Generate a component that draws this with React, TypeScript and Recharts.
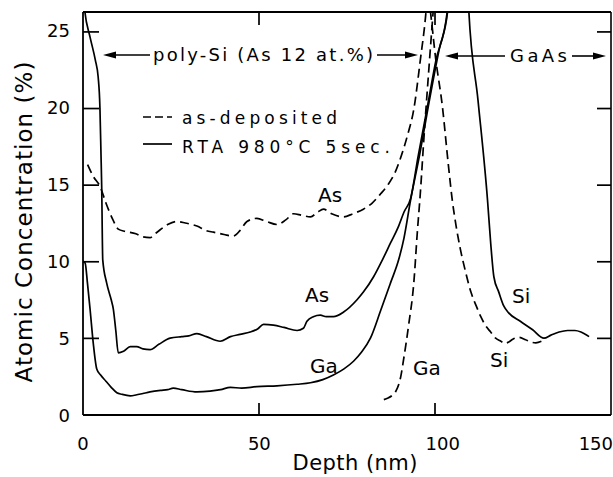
import React, { useEffect, useState } from "react";
import { LineChart, Line, XAxis, YAxis } from "recharts";

// Depth (nm), concentration (%)
const asDepositedAs: number[][] = [
  [1.3, 16.3], [3, 15.5], [4.8, 14.9], [6.5, 13.8], [8.5, 12.7], [10, 12.1], [12, 11.95], [15, 11.8],
  [17, 11.6], [19, 11.55], [21, 11.9], [24, 12.4], [26.6, 12.6], [29, 12.5], [32.3, 12.3], [35, 12.0],
  [37, 11.9], [40, 11.75], [42.6, 11.65], [44.5, 12.0], [46.5, 12.6], [49.3, 12.8], [52, 12.6], [55, 12.4],
  [57.5, 12.7], [59.7, 13.1], [62, 13.0], [64.5, 12.9], [66.5, 13.2], [68.2, 13.4], [70.5, 13.1], [73.9, 12.9],
  [76.5, 13.1], [79.5, 13.4], [82, 13.8], [84.4, 14.4], [86.5, 15.0], [88.5, 15.8], [90, 16.7], [92, 18.2],
  [93.8, 19.9], [95.7, 23.2], [97.2, 26.1], [97.6, 27.2],
];
const asDepositedGa: number[][] = [
  [85.3, 1.0], [86.5, 1.1], [87.8, 1.3], [88.6, 1.5], [90.1, 2.5], [90.9, 3.6], [92.3, 5.8], [93.8, 8.6],
  [94.8, 11.9], [95.7, 14.6], [96.6, 17.8], [98, 22.3], [99.3, 26.3], [99.6, 27.2],
];
const asDepositedSi: number[][] = [
  [98.0, 27.2], [98.6, 26.1], [100, 23.2], [101.9, 20.1], [103.5, 16.5], [104.7, 14.0], [105.8, 12.3],
  [107, 10.8], [108.5, 9.3], [110, 8.0], [111.5, 7.1], [112.8, 6.4], [114.2, 5.8], [115.6, 5.4], [117, 5.0],
  [118.5, 4.8], [119.5, 4.65], [120.7, 4.75], [122, 4.95], [123.6, 5.05], [125.5, 4.9], [127, 4.75],
  [128.4, 4.7], [130, 4.8], [131.2, 4.95],
];
const rtaAs: number[][] = [
  [0, 27.5], [0.5, 26.3], [2, 24.6], [3.5, 23.1], [4.3, 22], [4.8, 20], [5.1, 17], [5.3, 14.9], [5.6, 10.1],
  [6.7, 8.6], [8.0, 7.5], [8.6, 6.9], [9.3, 5.5], [10, 4.05], [11.5, 4.15], [13.4, 4.45], [15.2, 4.45],
  [17, 4.3], [19, 4.25], [21.5, 4.6], [24.7, 5.0], [28, 5.1], [30, 5.15], [32.3, 5.3], [35, 5.1], [38.9, 4.8],
  [41.8, 5.1], [44.5, 5.25], [47.4, 5.4], [49.5, 5.6], [51.2, 5.9], [54, 5.85], [57, 5.7], [60.7, 5.5],
  [62.5, 5.65], [63.5, 6.1], [65.3, 6.4], [67.3, 6.5], [69, 6.4], [71, 6.4], [73.9, 6.7], [77.7, 7.5],
  [79.5, 8.0], [82.4, 9.0], [84.9, 10.1], [87.2, 11.2], [89.5, 12.3], [91, 13.2], [92.9, 14.1], [95, 16.8],
  [97.6, 20], [100, 23], [103.3, 26.3], [103.6, 27.2],
];
const rtaGa: number[][] = [
  [0, 10.0], [0.6, 9.9], [1.3, 8.5], [2, 6.9], [2.9, 4.7], [3.9, 3.0], [5, 2.6], [6.5, 2.2], [8, 1.8],
  [9.6, 1.45], [11, 1.35], [13.4, 1.25], [15, 1.3], [17, 1.4], [19, 1.5], [22, 1.6], [24, 1.65], [25.6, 1.75],
  [28, 1.65], [32.3, 1.5], [36, 1.55], [39, 1.65], [41.8, 1.8], [45, 1.75], [49.3, 1.85], [55, 1.9],
  [60.7, 2.0], [64.5, 2.1], [68, 2.3], [71, 2.6], [74, 3.0], [76.7, 3.5], [79, 4.1], [81.5, 5.0], [84.4, 6.8],
  [87.2, 8.6], [89.5, 10.1], [91, 11.5], [92.9, 14], [95.5, 17], [98, 20.2], [101, 23.8], [103.4, 26.3],
  [103.7, 27.2],
];
const rtaSi: number[][] = [
  [109.2, 27.2], [109.4, 26.3], [112, 20.5], [114.7, 14.0], [115.6, 11.2], [116.5, 9.0], [117.9, 8.0],
  [119.3, 7.1], [120.7, 6.65], [124, 6.1], [127.5, 5.55], [130.7, 5.0], [132.7, 5.2], [135, 5.4],
  [137.4, 5.5], [139.5, 5.5], [141.2, 5.4], [143.5, 5.1],
];

const X_MIN = 0;
const X_MAX = 150;
const Y_MIN = 0;
const Y_MAX = 26.3;
const xTicks = [0, 50, 100, 150];
const yTicks = [0, 5, 10, 15, 20, 25];
const innerXTicks = [50, 100];
const innerYTicks = [5, 10, 15, 20, 25];

// layout
const W = 613;
const H = 477;
const PLOT_LEFT = 83;
const PLOT_TOP = 12;
const PLOT_RIGHT = 611;
const PLOT_BOTTOM = 415;
const sx = (d: number) => PLOT_LEFT + ((d - X_MIN) / (X_MAX - X_MIN)) * (PLOT_RIGHT - PLOT_LEFT);
const sy = (c: number) => PLOT_BOTTOM - ((c - Y_MIN) / (Y_MAX - Y_MIN)) * (PLOT_BOTTOM - PLOT_TOP);

const toPts = (a: number[][]) => a.map(([d, c]) => ({ d, c }));

const FONT = "'DejaVu Sans', sans-serif";

const LeftTick = (props: any) => {
  const x = Number(props.x);
  const y = Number(props.y);
  const v = props.payload.value;
  return (
    <text x={x - 13} y={y + 6.5} textAnchor="end" fontSize={18} fontFamily={FONT} fill="#000" stroke="none">
      {v}
    </text>
  );
};
const BottomTick = (props: any) => {
  const x = Number(props.x);
  const y = Number(props.y);
  const v = props.payload.value;
  const last = v === X_MAX;
  return (
    <text
      x={last ? x + 1 : v === 100 ? x + 7 : x}
      y={y + 35}
      textAnchor={last ? "end" : "middle"}
      fontSize={18}
      fontFamily={FONT}
      fill="#000"
      stroke="none"
    >
      {v}
    </text>
  );
};

const Seg = ({ x1, y1, x2, y2, w = 1.8 }: { x1: number; y1: number; x2: number; y2: number; w?: number }) => (
  <line x1={x1} y1={y1} x2={x2} y2={y2} stroke="#000" strokeWidth={w} />
);

const Arrow = ({ x1, x2, y }: { x1: number; x2: number; y: number }) => {
  const dir = x2 > x1 ? 1 : -1;
  return (
    <g>
      <line x1={x1} x2={x2 - dir * 8} y1={y} y2={y} stroke="#000" strokeWidth={1.6} />
      <polygon points={`${x2},${y} ${x2 - dir * 13},${y - 3.5} ${x2 - dir * 13},${y + 3.5}`} fill="#000" />
    </g>
  );
};

const T = (p: { x: number; y: number; w?: number; size?: number; children: string }) => (
  <text
    x={p.x}
    y={p.y}
    fontSize={p.size ?? 18}
    fontFamily={FONT}
    fill="#000"
    textLength={p.w}
    lengthAdjust={p.w ? "spacing" : undefined}
  >
    {p.children}
  </text>
);

export default function App() {
  const [pass, setPass] = useState(0);
  useEffect(() => {
    const t = setTimeout(() => setPass(1), 50);
    return () => clearTimeout(t);
  }, []);
  const lineCommon = {
    dataKey: "c",
    dot: false,
    activeDot: false,
    isAnimationActive: false,
    stroke: "#000",
    type: "monotone" as const,
  };
  return (
    <div data-pass={pass} style={{ position: "absolute", left: 0, top: 0, width: W, height: H, background: "#fff" }}>
      <LineChart
        width={W}
        height={H}
        margin={{ top: PLOT_TOP - 1, right: W - PLOT_RIGHT - 1, bottom: H - PLOT_BOTTOM - 1, left: PLOT_LEFT - 1 }}
      >
        <XAxis
          type="number"
          dataKey="d"
          domain={[X_MIN, X_MAX]}
          ticks={xTicks}
          interval={0}
          height={1}
          tickSize={0}
          tickMargin={0}
          tickLine={false}
          axisLine={false}
          tick={<BottomTick />}
          allowDataOverflow
        />
        <YAxis
          type="number"
          domain={[Y_MIN, Y_MAX]}
          ticks={yTicks}
          interval={0}
          width={1}
          tickSize={0}
          tickMargin={0}
          tickLine={false}
          axisLine={false}
          tick={<LeftTick />}
          allowDataOverflow
        />
        <Line {...lineCommon} data={toPts(asDepositedAs)} strokeWidth={1.7} strokeDasharray="9 5" />
        <Line {...lineCommon} data={toPts(asDepositedGa)} strokeWidth={1.7} strokeDasharray="9 5" />
        <Line {...lineCommon} data={toPts(asDepositedSi)} strokeWidth={1.7} strokeDasharray="9 5" />
        <Line {...lineCommon} data={toPts(rtaAs)} strokeWidth={1.7} />
        <Line {...lineCommon} data={toPts(rtaGa)} strokeWidth={1.7} />
        <Line {...lineCommon} data={toPts(rtaSi)} strokeWidth={1.7} />
      </LineChart>
      <svg width={W} height={H} style={{ position: "absolute", left: 0, top: 0, pointerEvents: "none" }}>
        <Arrow x1={150} x2={103} y={55} />
        <T x={153} y={61} w={220}>poly-Si (As 12 at.%)</T>
        <Arrow x1={377} x2={418} y={55} />
        <Arrow x1={505} x2={445} y={56} />
        <T x={510} y={62} w={57}>GaAs</T>
        <Arrow x1={572} x2={606} y={56} />

        <line x1={143} x2={172} y1={117} y2={117} stroke="#000" strokeWidth={1.7} strokeDasharray="8 4" />
        <T x={182} y={124} size={17} w={155}>as-deposited</T>
        <line x1={143} x2={172} y1={144} y2={144} stroke="#000" strokeWidth={1.7} />
        <T x={182} y={153} size={17} w={208}>RTA 980°C 5sec.</T>

        <T x={318} y={202} size={20}>As</T>
        <T x={305} y={302} size={20}>As</T>
        <T x={310} y={373} size={20}>Ga</T>
        <T x={413} y={375} size={20}>Ga</T>
        <T x={512} y={303} size={20}>Si</T>
        <T x={490} y={367} size={20}>Si</T>

        <text x={355} y={470} textAnchor="middle" fontSize={21} fontFamily={FONT} fill="#000" textLength={125} lengthAdjust="spacing">
          Depth (nm)
        </text>
        <text
          x={0}
          y={0}
          transform="translate(32,222) rotate(-90)"
          textAnchor="middle"
          fontSize={23}
          fontFamily={FONT}
          fill="#000"
          textLength={321}
          lengthAdjust="spacing"
        >
          Atomic Concentration (%)
        </text>

        {/* frame */}
        <Seg x1={PLOT_LEFT} y1={PLOT_TOP} x2={PLOT_RIGHT} y2={PLOT_TOP} />
        <Seg x1={PLOT_LEFT} y1={PLOT_BOTTOM} x2={PLOT_RIGHT} y2={PLOT_BOTTOM} />
        <Seg x1={PLOT_LEFT} y1={PLOT_TOP} x2={PLOT_LEFT} y2={PLOT_BOTTOM} />
        <Seg x1={PLOT_RIGHT} y1={PLOT_TOP} x2={PLOT_RIGHT} y2={PLOT_BOTTOM} w={1.6} />
        {/* inward ticks */}
        {innerYTicks.map((v) => (
          <g key={"y" + v}>
            <Seg x1={PLOT_LEFT} x2={PLOT_LEFT + 16} y1={sy(v)} y2={sy(v)} w={1.7} />
            <Seg x1={PLOT_RIGHT} x2={PLOT_RIGHT - 14} y1={sy(v)} y2={sy(v)} w={1.7} />
          </g>
        ))}
        {innerXTicks.map((v) => (
          <g key={"x" + v}>
            <Seg x1={sx(v)} x2={sx(v)} y1={PLOT_BOTTOM} y2={PLOT_BOTTOM - 12} w={1.7} />
            <Seg x1={sx(v)} x2={sx(v)} y1={PLOT_TOP} y2={PLOT_TOP + 13} w={1.7} />
          </g>
        ))}
      </svg>
    </div>
  );
}
